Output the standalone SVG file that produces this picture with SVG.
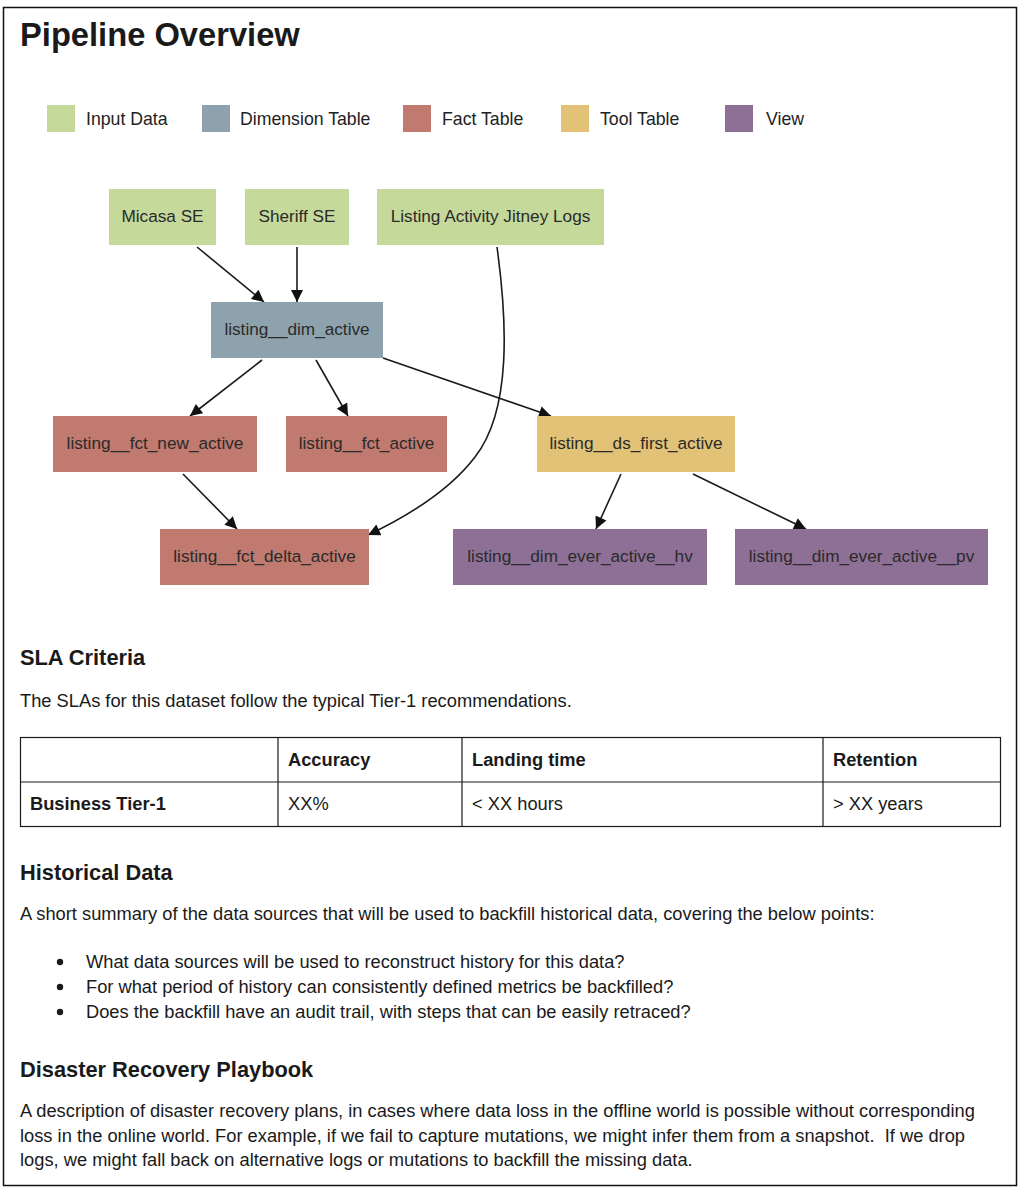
<svg xmlns="http://www.w3.org/2000/svg" width="1024" height="1193" viewBox="0 0 1024 1193">
<style>
text{font-family:"Liberation Sans",Arial,Helvetica,sans-serif;fill:#1a1a1a}
.h1{font-size:32.7px;font-weight:bold}
.h2{font-size:21.8px;font-weight:bold}
.p{font-size:18.3px}
.b{font-size:18.3px;font-weight:bold}
.lg{font-size:17.7px;fill:#222}
.nt{font-size:17.2px;fill:#2a2a2a;text-anchor:middle}
.in{fill:#c5d99b}
.dm{fill:#8ea2ad}
.ft{fill:#c07a6f}
.tl{fill:#e2c276}
.vw{fill:#8e7096}
.edge{fill:none;stroke:#1a1a1a;stroke-width:1.6}
.grid{stroke:#1a1a1a;stroke-width:1.2;fill:none}
</style>
<defs>
<marker id="ah2" viewBox="0 0 10 10" refX="10" refY="5" markerWidth="14" markerHeight="12" markerUnits="userSpaceOnUse" orient="auto">
<path d="M0,0 L10,5 L0,10 z" fill="#111"/>
</marker>
</defs>
<rect x="0" y="0" width="1024" height="1193" fill="#fff"/>
<rect x="3.5" y="7.5" width="1013" height="1178" fill="none" stroke="#111" stroke-width="1.5"/>

<text class="h1" x="20" y="46">Pipeline Overview</text>

<g id="legend">
<rect class="in" x="47" y="105" width="28" height="27"/><text class="lg" x="86" y="125">Input Data</text>
<rect class="dm" x="202" y="105" width="28" height="27"/><text class="lg" x="240" y="125">Dimension Table</text>
<rect class="ft" x="403" y="105" width="28" height="27"/><text class="lg" x="442" y="125">Fact Table</text>
<rect class="tl" x="561" y="105" width="28" height="27"/><text class="lg" x="600" y="125">Tool Table</text>
<rect class="vw" x="725" y="105" width="28" height="27"/><text class="lg" x="766" y="125">View</text>
</g>

<g id="connectors">
<path class="edge" marker-end="url(#ah2)" d="M197,247 L264,302"/>
<path class="edge" marker-end="url(#ah2)" d="M297,247 L297,302"/>
<path class="edge" marker-end="url(#ah2)" d="M497,247 C507,320 512,410 475,457 C450,490 410,515 368,535"/>
<path class="edge" marker-end="url(#ah2)" d="M262,360 L190,416"/>
<path class="edge" marker-end="url(#ah2)" d="M316,360 L348,416"/>
<path class="edge" marker-end="url(#ah2)" d="M383,358 L551,416"/>
<path class="edge" marker-end="url(#ah2)" d="M183,474 L237,529"/>
<path class="edge" marker-end="url(#ah2)" d="M621,474 L596,529"/>
<path class="edge" marker-end="url(#ah2)" d="M693,474 L806,529"/>
</g>

<g id="micasa"><rect class="in" x="109" y="189" width="107" height="56"/><text class="nt" x="162.5" y="222">Micasa SE</text></g>
<g id="sheriff"><rect class="in" x="245" y="189" width="104" height="56"/><text class="nt" x="297" y="222">Sheriff SE</text></g>
<g id="jitney"><rect class="in" x="377" y="189" width="227" height="56"/><text class="nt" x="490.5" y="222">Listing Activity Jitney Logs</text></g>
<g id="dim_active"><rect class="dm" x="211" y="302" width="172" height="56"/><text class="nt" x="297" y="335">listing__dim_active</text></g>
<g id="fct_new_active"><rect class="ft" x="53" y="416" width="204" height="56"/><text class="nt" x="155" y="449">listing__fct_new_active</text></g>
<g id="fct_active"><rect class="ft" x="286" y="416" width="161" height="56"/><text class="nt" x="366.5" y="449">listing__fct_active</text></g>
<g id="ds_first_active"><rect class="tl" x="537" y="416" width="198" height="56"/><text class="nt" x="636" y="449">listing__ds_first_active</text></g>
<g id="fct_delta_active"><rect class="ft" x="160" y="529" width="209" height="56"/><text class="nt" x="264.5" y="562">listing__fct_delta_active</text></g>
<g id="ever_active_hv"><rect class="vw" x="453" y="529" width="254" height="56"/><text class="nt" x="580" y="562">listing__dim_ever_active__hv</text></g>
<g id="ever_active_pv"><rect class="vw" x="735" y="529" width="253" height="56"/><text class="nt" x="861.5" y="562">listing__dim_ever_active__pv</text></g>

<text class="h2" x="20" y="665">SLA Criteria</text>
<text class="p" x="20" y="707">The SLAs for this dataset follow the typical Tier-1 recommendations.</text>

<g id="sla-table">
<rect class="grid" x="20.5" y="737.5" width="980" height="89"/>
<line class="grid" x1="20.5" y1="782" x2="1000.5" y2="782"/>
<line class="grid" x1="278" y1="737.5" x2="278" y2="826.5"/>
<line class="grid" x1="462" y1="737.5" x2="462" y2="826.5"/>
<line class="grid" x1="823" y1="737.5" x2="823" y2="826.5"/>
<text class="b" x="288" y="766">Accuracy</text>
<text class="b" x="472" y="766">Landing time</text>
<text class="b" x="833" y="766">Retention</text>
<text class="b" x="30" y="810">Business Tier-1</text>
<text class="p" x="288" y="810">XX%</text>
<text class="p" x="472" y="810">&lt; XX hours</text>
<text class="p" x="833" y="810">&gt; XX years</text>
</g>

<text class="h2" x="20" y="880">Historical Data</text>
<text class="p" x="20" y="920">A short summary of the data sources that will be used to backfill historical data, covering the below points:</text>
<circle cx="60" cy="962" r="3.2" fill="#1a1a1a"/>
<text class="p" x="86" y="968">What data sources will be used to reconstruct history for this data?</text>
<circle cx="60" cy="987" r="3.2" fill="#1a1a1a"/>
<text class="p" x="86" y="993">For what period of history can consistently defined metrics be backfilled?</text>
<circle cx="60" cy="1012" r="3.2" fill="#1a1a1a"/>
<text class="p" x="86" y="1018">Does the backfill have an audit trail, with steps that can be easily retraced?</text>

<text class="h2" x="20" y="1077">Disaster Recovery Playbook</text>
<text class="p" x="20" y="1117">A description of disaster recovery plans, in cases where data loss in the offline world is possible without corresponding</text>
<text class="p" x="20" y="1142" xml:space="preserve">loss in the online world. For example, if we fail to capture mutations, we might infer them from a snapshot.  If we drop</text>
<text class="p" x="20" y="1166">logs, we might fall back on alternative logs or mutations to backfill the missing data.</text>
</svg>
